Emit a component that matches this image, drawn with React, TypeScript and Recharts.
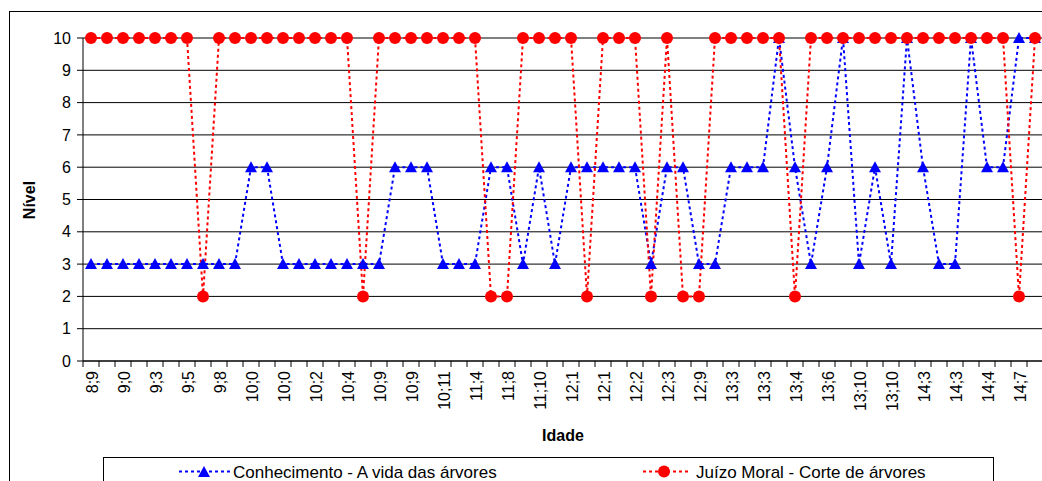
import { LineChart, Line, XAxis, YAxis, CartesianGrid } from 'recharts';

// idade de cada sujeito (só as pares aparecem no eixo)
const idades = [
  '8;9', '8;11', '9;0', '9;1', '9;3', '9;4', '9;5', '9;6', '9;8', '9;10',
  '10;0', '10;0', '10;0', '10;1', '10;2', '10;3', '10;4', '10;6', '10;9', '10;9',
  '10;9', '10;10', '10;11', '11;2', '11;4', '11;6', '11;8', '11;9', '11;10', '12;0',
  '12;1', '12;1', '12;1', '12;1', '12;2', '12;2', '12;3', '12;5', '12;9', '13;0',
  '13;3', '13;3', '13;3', '13;3', '13;4', '13;5', '13;6', '13;8', '13;10', '13;10',
  '13;10', '14;0', '14;3', '14;3', '14;3', '14;3', '14;4', '14;5', '14;7', '14;9',
];

const conhecimento = [
  3, 3, 3, 3, 3, 3, 3, 3, 3, 3,
  6, 6, 3, 3, 3, 3, 3, 3, 3, 6,
  6, 6, 3, 3, 3, 6, 6, 3, 6, 3,
  6, 6, 6, 6, 6, 3, 6, 6, 3, 3,
  6, 6, 6, 10, 6, 3, 6, 10, 3, 6,
  3, 10, 6, 3, 3, 10, 6, 6, 10, 10,
];

const juizoMoral = [
  10, 10, 10, 10, 10, 10, 10, 2, 10, 10,
  10, 10, 10, 10, 10, 10, 10, 2, 10, 10,
  10, 10, 10, 10, 10, 2, 2, 10, 10, 10,
  10, 2, 10, 10, 10, 2, 10, 2, 2, 10,
  10, 10, 10, 10, 2, 10, 10, 10, 10, 10,
  10, 10, 10, 10, 10, 10, 10, 10, 2, 10,
];

const niveis = [0, 1, 2, 3, 4, 5, 6, 7, 8, 9, 10];

const data = idades.map((idade, i) => ({
  idade,
  conhecimento: conhecimento[i],
  juizo: juizoMoral[i],
}));

const FONT = '"Liberation Sans", Arial, sans-serif';

function Triangle(props: any) {
  const { cx, cy } = props;
  if (cx == null || cy == null) return null;
  return <polygon points={`${cx - 6},${cy + 5} ${cx + 6},${cy + 5} ${cx},${cy - 6}`} fill="#0000ff" />;
}

function Dot(props: any) {
  const { cx, cy } = props;
  if (cx == null || cy == null) return null;
  return <circle cx={cx} cy={cy} r={6} fill="#ff0000" />;
}

function IdadeTick(props: any) {
  const { x, y, payload } = props;
  const index = props.index ?? payload.index;
  return (
    <g>
      <line x1={x - 8} y1={361} x2={x - 8} y2={367} stroke="#000" />
      {index % 2 === 0 && (
        <text
          x={x}
          y={y}
          transform={`rotate(-90 ${x} ${y})`}
          textAnchor="end"
          dy={7}
          fontSize={16}
          fontFamily={FONT}
          fill="#000"
        >
          {payload.value}
        </text>
      )}
    </g>
  );
}

export default function App() {
  return (
    <div style={{ position: 'absolute', left: 0, top: 0, width: 1042, height: 481, overflow: 'hidden', background: '#fff' }}>
      <div style={{ position: 'absolute', left: 9, top: 11, width: 1100, height: 520, border: '1px solid #000' }} />
      <div style={{ position: 'absolute', left: 0, top: 0 }}>
        <LineChart width={1100} height={481} data={data} margin={{ top: 38, right: 57, bottom: 0, left: 0 }}>
          <CartesianGrid vertical={false} stroke="#000" />
          <XAxis
            dataKey="idade"
            interval={0}
            height={120}
            padding={{ left: 8, right: 8 }}
            tickLine={false}
            tickSize={6}
            tickMargin={4}
            tick={<IdadeTick />}
            stroke="#000"
            label={{
              content: (p: any) => (
                <text x={563} y={441} textAnchor="middle" fontSize={16} fontWeight="bold" fontFamily={FONT} fill="#000">
                  Idade
                </text>
              ),
            }}
          />
          <YAxis
            domain={[0, 10]}
            ticks={niveis}
            width={83}
            interval={0}
            tickSize={6}
            tickMargin={6}
            stroke="#000"
            tick={{ fontSize: 16, fontFamily: FONT, fill: '#000' }}
            label={{
              content: () => (
                <text x={35} y={200} transform="rotate(-90 35 200)" textAnchor="middle" fontSize={16} fontWeight="bold" fontFamily={FONT} fill="#000">
                  Nível
                </text>
              ),
            }}
          />
          <Line
            type="linear"
            dataKey="conhecimento"
            stroke="#0000ff"
            strokeWidth={2}
            strokeDasharray="3 3"
            dot={<Triangle />}
            activeDot={false}
            isAnimationActive={false}
          />
          <Line
            type="linear"
            dataKey="juizo"
            stroke="#ff0000"
            strokeWidth={2}
            strokeDasharray="3 3"
            dot={<Dot />}
            activeDot={false}
            isAnimationActive={false}
          />
        </LineChart>
      </div>
      <div style={{ position: 'absolute', left: 103, top: 457, width: 889, height: 40, border: '1px solid #000', background: '#fff' }}>
        <svg width={889} height={40} style={{ position: 'absolute', left: 0, top: 0 }}>
          <line x1={75} y1={13.5} x2={127} y2={13.5} stroke="#0000ff" strokeWidth={2} strokeDasharray="3 3" />
          <polygon points="94,19 106,19 100,8" fill="#0000ff" />
          <text x={129} y={20} fontSize={17} fontFamily={FONT} fill="#000">Conhecimento - A vida das árvores</text>
          <line x1={539} y1={13.5} x2={585} y2={13.5} stroke="#ff0000" strokeWidth={2} strokeDasharray="3 3" />
          <circle cx={560} cy={13.5} r={6} fill="#ff0000" />
          <text x={592} y={20} fontSize={17} fontFamily={FONT} fill="#000">Juízo Moral - Corte de árvores</text>
        </svg>
      </div>
    </div>
  );
}
